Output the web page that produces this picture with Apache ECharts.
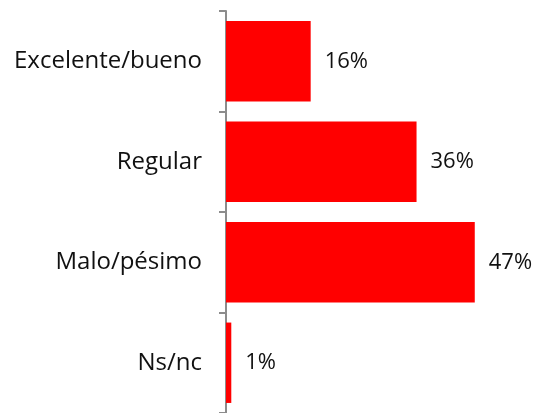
<!DOCTYPE html>
<html>
<head>
<meta charset="utf-8">
<script src="https://cdn.jsdelivr.net/npm/echarts@6/dist/echarts.min.js"></script>
<style>
  html, body { margin: 0; padding: 0; background: #fff; }
  #main { width: 536px; height: 413px; }
</style>
</head>
<body>
<div id="main"></div>
<script>
// categorías (de arriba a abajo) y porcentajes
const categorias = ['Excelente/bueno', 'Regular', 'Malo/pésimo', 'Ns/nc']
const valores = [16, 36, 47, 1]

const myChart = echarts.init(document.getElementById('main'))
const option = {
  animation: false,
  textStyle: { fontFamily: 'Open Sans' },
  grid: {
    left: 226,
    right: 48,
    top: 11,
    bottom: -4,
    containLabel: false
  },
  xAxis: {
    type: 'value',
    min: 0,
    max: 49.5,
    show: false
  },
  yAxis: {
    type: 'category',
    inverse: true,
    data: categorias,
    axisLine: { show: true, lineStyle: { color: '#8c8c8c', width: 2 } },
    axisTick: { show: true, length: 7, lineStyle: { color: '#8c8c8c', width: 2 } },
    axisLabel: { color: '#111', fontSize: 24, margin: 24, fontFamily: 'Open Sans' },
    splitLine: { show: false }
  },
  series: [{
    type: 'bar',
    data: valores,
    barCategoryGap: '20%',
    itemStyle: { color: '#ff0000' },
    label: {
      show: true,
      position: 'right',
      distance: 14,
      color: '#111',
      fontSize: 22,
      fontFamily: 'Open Sans',
      formatter: '{c}%'
    }
  }]
}
myChart.setOption(option)
</script>
</body>
</html>
